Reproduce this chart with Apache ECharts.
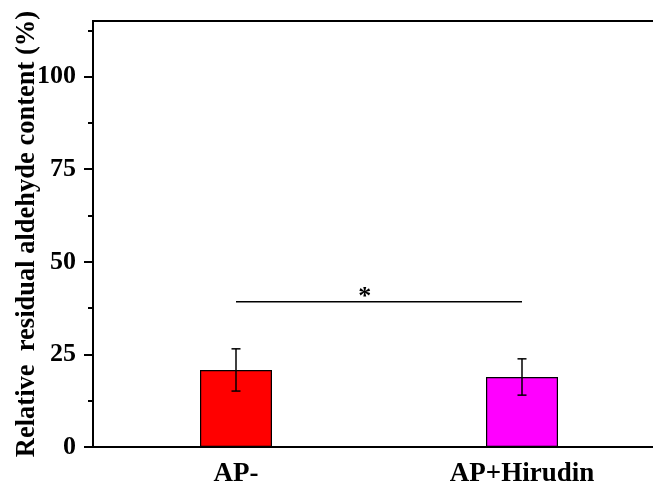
<!DOCTYPE html>
<html><head><meta charset="utf-8">
<script src="https://cdn.jsdelivr.net/npm/echarts@6/dist/echarts.min.js"></script>
<style>html,body{margin:0;padding:0;background:#fff}#c{width:653px;height:489px}</style>
</head><body><div id="c"></div>
<script>
const categories = ['AP-', 'AP+Hirudin'];
const means = [20.8, 18.9];
const errors = [5.7, 4.9];
const barColors = ['#ff0000', '#ff00ff'];
const majorTicks = [0, 25, 50, 75, 100];
const minorTicks = [12.5, 37.5, 62.5, 87.5, 112.5];
const sigLevel = 39.2;
const sigMark = '*';
const yMin = 0, yMax = 115;
const yTitle = 'Relative  residual aldehyde content (%)';

const FONT = '"Liberation Serif", "Times New Roman", serif';
const chart = echarts.init(document.getElementById('c'), null, {renderer: 'canvas'});

chart.setOption({
  animation: false,
  backgroundColor: '#fff',
  grid: {left: 93, top: 21, width: 572, height: 426, outerBoundsMode: 'none', containLabel: false,
         show: true, borderColor: '#000', borderWidth: 2, backgroundColor: 'transparent'},
  xAxis: {
    type: 'category', data: categories,
    axisLine: {lineStyle: {color: '#000', width: 2}},
    axisTick: {alignWithLabel: true, length: 8, lineStyle: {color: '#000', width: 2}},
    axisLabel: {color: '#000', fontFamily: FONT, fontWeight: 'bold', fontSize: 27, margin: 14},
    splitLine: {show: false}
  },
  yAxis: [{
    type: 'value', min: yMin, max: yMax,
    name: yTitle, nameLocation: 'middle', nameGap: 52, nameRotate: 90, nameMoveOverlap: false,
    nameTextStyle: {color: '#000', fontFamily: FONT, fontWeight: 'bold', fontSize: 26.5},
    axisLine: {show: true, lineStyle: {color: '#000', width: 2}},
    axisTick: {show: true, length: 9, customValues: majorTicks, lineStyle: {color: '#000', width: 2}},
    axisLabel: {color: '#000', fontFamily: FONT, fontWeight: 'bold', fontSize: 26, margin: 17, customValues: majorTicks},
    splitLine: {show: false}
  }, {
    type: 'value', min: yMin, max: yMax, position: 'left',
    axisLine: {show: false},
    axisTick: {show: true, length: 5, customValues: minorTicks, lineStyle: {color: '#000', width: 2}},
    axisLabel: {show: false},
    splitLine: {show: false}
  }],
  series: [{
    type: 'bar', yAxisIndex: 0, barWidth: 72,
    data: means.map((v, i) => ({value: v, itemStyle: {color: barColors[i], borderColor: '#000', borderWidth: 1.2}})),
    z: 2
  }, {
    type: 'custom', yAxisIndex: 0, z: 5,
    data: means.map((m, i) => [i, m - errors[i], m + errors[i]]),
    renderItem: function (params, api) {
      const lo = api.coord([api.value(0), api.value(1)]);
      const hi = api.coord([api.value(0), api.value(2)]);
      const w = 4.5;
      const st = {stroke: '#000', lineWidth: 1.5};
      return {type: 'group', children: [
        {type: 'line', shape: {x1: lo[0], y1: lo[1], x2: hi[0], y2: hi[1]}, style: st},
        {type: 'line', shape: {x1: hi[0] - w, y1: hi[1], x2: hi[0] + w, y2: hi[1]}, style: st},
        {type: 'line', shape: {x1: lo[0] - w, y1: lo[1], x2: lo[0] + w, y2: lo[1]}, style: st}
      ]};
    }
  }, {
    type: 'custom', yAxisIndex: 0, z: 6,
    data: [[0, 1, sigLevel]],
    renderItem: function (params, api) {
      const p0 = api.coord([api.value(0), api.value(2)]);
      const p1 = api.coord([api.value(1), api.value(2)]);
      const mx = p0[0] + 0.45 * (p1[0] - p0[0]);
      return {type: 'group', children: [
        {type: 'line', shape: {x1: p0[0], y1: p0[1], x2: p1[0], y2: p1[1]}, style: {stroke: '#000', lineWidth: 1.5}},
        {type: 'text', x: mx, y: p0[1] + 8, style: {text: sigMark, fill: '#000', font: 'bold 26px ' + FONT, textAlign: 'center', textVerticalAlign: 'bottom'}}
      ]};
    }
  }]
});
</script></body></html>
